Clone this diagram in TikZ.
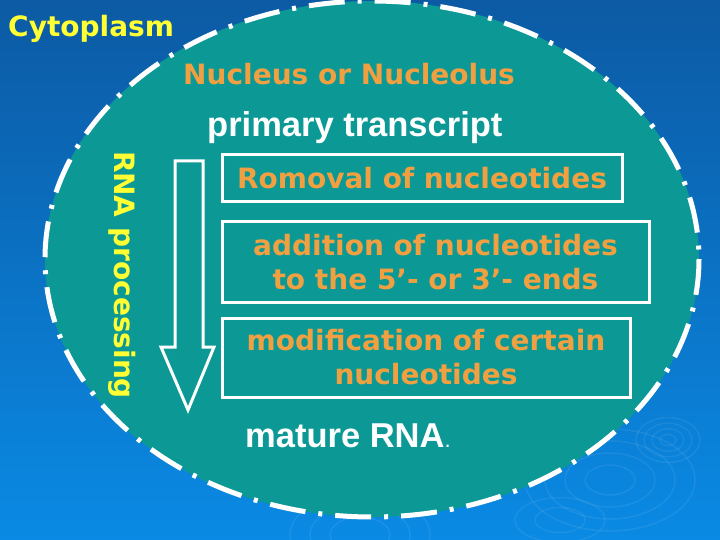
\documentclass[tikz,border=0pt]{standalone}
\usepackage{fontspec}
\newfontfamily\verdfont{DejaVu Sans}
\newfontfamily\arifont{Liberation Sans}
\definecolor{bgtop}{RGB}{12,90,164}
\definecolor{bgbot}{RGB}{10,138,228}
\definecolor{tealfill}{RGB}{12,153,150}
\definecolor{orangetxt}{RGB}{240,160,64}
\definecolor{yellowtxt}{RGB}{255,255,51}
\begin{document}
\begin{tikzpicture}[x=1pt,y=-1pt,
  boxnode/.style={draw=white,line width=3pt,inner sep=0pt,align=center,text=orangetxt,
    font=\verdfont\bfseries\fontsize{28}{34}\selectfont},
  titletxt/.style={inner sep=0pt,font=\verdfont\bfseries\fontsize{28}{34}\selectfont},
  whitetxt/.style={inner sep=0pt,text=white,font=\arifont\bfseries\fontsize{34.5}{40}\selectfont},
  ripple/.style={draw=white,opacity=0.07,line width=1.5pt}]
\useasboundingbox (0,0) rectangle (720,540);
\fill[top color=bgtop,bottom color=bgbot] (0,0) rectangle (720,540);
% faint ripples
\foreach \r in {8,16,24,32} \draw[ripple] (668,440) ellipse [x radius=\r, y radius=0.7*\r];
\foreach \r in {25,45,65,85} \draw[ripple] (610,480) ellipse [x radius=\r, y radius=0.6*\r];
\foreach \r in {30,50,70} \draw[ripple] (360,535) ellipse [x radius=\r, y radius=0.6*\r];
\foreach \r in {25,45} \draw[ripple] (560,520) ellipse [x radius=\r, y radius=0.5*\r];
% nucleus
\fill[tealfill] (372,259) ellipse [x radius=327, y radius=258];
\draw[white,line width=5pt,dash pattern=on 36pt off 13pt on 4pt off 13pt] (372,259) ellipse [x radius=327, y radius=258];
% labels
\node[titletxt,text=yellowtxt,anchor=base west] (cyto) at (8,37) {Cytoplasm};
\node[titletxt,text=orangetxt,anchor=base west] (nuc) at (183,85) {Nucleus or Nucleolus};
\node[whitetxt,anchor=base west] (prim) at (207,137) {primary transcript};
\node[titletxt,text=yellowtxt,rotate=-90] (proc) at (122,275) {RNA processing};
% arrow
\draw[white,line width=3pt,line join=miter] (175,161) -- (203,161) -- (203,347) -- (214,347) -- (188,410) -- (161,347) -- (175,347) -- cycle;
% boxes
\node[boxnode,minimum width=400,minimum height=47] (b1) at (422,178.5) {Romoval of nucleotides};
\node[boxnode,minimum width=427,minimum height=80] (b2) at (435.5,262) {addition of nucleotides\\to the 5’- or 3’- ends};
\node[boxnode,minimum width=408,minimum height=79] (b3) at (426,357.5) {modification of certain\\nucleotides};
\node[whitetxt,anchor=base west] (mat) at (245,447) {mature RNA{\fontsize{22}{26}\selectfont\mdseries.}};
\end{tikzpicture}
\end{document}
